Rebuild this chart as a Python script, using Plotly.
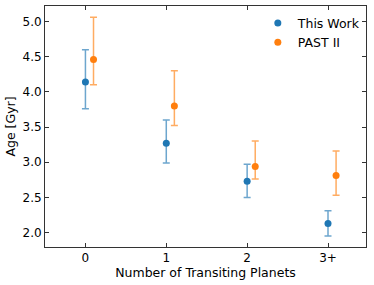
import plotly.graph_objects as go

categories = ["0", "1", "2", "3+"]
x_pos = [0, 1, 2, 3]
x_offset = 0.1

this_work = [4.14, 3.27, 2.73, 2.13]
this_work_hi = [4.60, 3.60, 2.97, 2.31]
this_work_lo = [3.76, 2.99, 2.50, 1.95]

past2 = [4.46, 3.80, 2.94, 2.81]
past2_hi = [5.06, 4.30, 3.30, 3.16]
past2_lo = [4.10, 3.52, 2.76, 2.53]

blue = "#1f77b4"
orange = "#ff7f0e"

def errs(v, hi, lo):
    return [h - a for a, h in zip(v, hi)], [a - l for a, l in zip(v, lo)]

fig = go.Figure()
for name, xs, v, hi, lo, c, ce in [
    ("This Work", x_pos, this_work, this_work_hi, this_work_lo, blue, "rgba(31,119,180,0.65)"),
    ("PAST II", [x + x_offset for x in x_pos], past2, past2_hi, past2_lo, orange, "rgba(255,127,14,0.65)"),
]:
    up, dn = errs(v, hi, lo)
    fig.add_trace(go.Scatter(
        x=xs, y=v, mode="markers", name=name,
        marker=dict(color=c, size=7),
        error_y=dict(type="data", symmetric=False, array=up, arrayminus=dn,
                     color=ce, thickness=1.5, width=3.5),
    ))

axis_common = dict(
    showline=True, linecolor="#333333", linewidth=1, mirror="allticks",
    ticks="inside", ticklen=4, tickcolor="#333333", tickwidth=1,
    showgrid=False, zeroline=False, automargin=False,
    tickfont=dict(family="DejaVu Sans", size=12, color="black"),
)

fig.update_xaxes(range=[-0.5, 3.47], tickvals=x_pos, ticktext=categories,
                 title=dict(text="Number of Transiting Planets", standoff=2,
                            font=dict(family="DejaVu Sans", size=12.5, color="black")),
                 **axis_common)
fig.update_yaxes(range=[1.795, 5.22], tickvals=[2.0, 2.5, 3.0, 3.5, 4.0, 4.5, 5.0],
                 tickformat=".1f",
                 title=dict(text="Age [Gyr]", standoff=4,
                            font=dict(family="DejaVu Sans", size=12.5, color="black")),
                 **axis_common)

fig.update_layout(
    width=374, height=285,
    margin=dict(l=45, r=8, t=6, b=38),
    plot_bgcolor="white", paper_bgcolor="white",
    font=dict(family="DejaVu Sans", size=12.5, color="black"),
    legend=dict(x=0.663, y=0.99, xanchor="left", yanchor="top",
                bgcolor="rgba(0,0,0,0)", font=dict(size=12.5),
                tracegroupgap=0),
)

fig.write_html("out.html", config={"displayModeBar": False},
               post_script="document.body.style.margin='0';")
